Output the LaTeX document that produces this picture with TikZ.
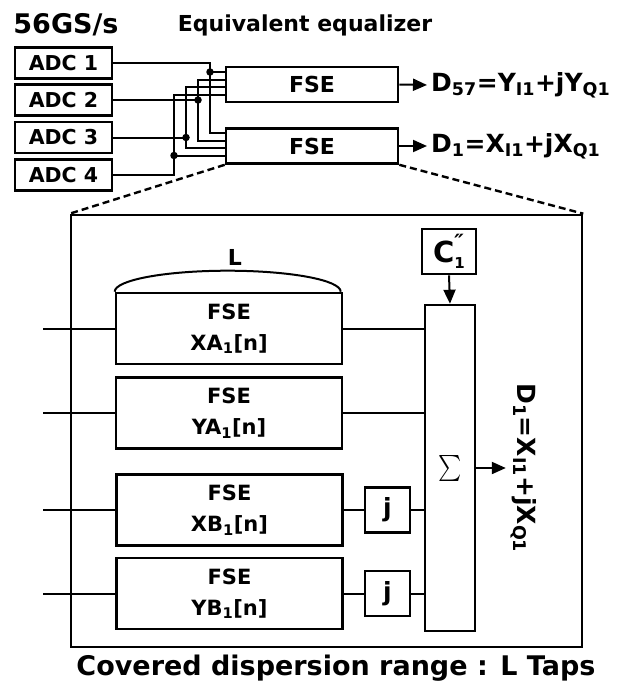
\documentclass[tikz,border=0pt]{standalone}
\usepackage{fontspec}
\usepackage{graphicx}
\setmainfont{DejaVu Sans}
\usetikzlibrary{arrows.meta, positioning, calc}

\begin{document}
\begin{tikzpicture}[x=1pt, y=-1pt,
    blk/.style={draw, rectangle, line width=2.6pt, inner sep=0pt, align=center,
      font=\fontsize{21}{31}\selectfont\bfseries},
    adcbox/.style={blk, minimum width=97pt, minimum height=31pt, font=\fontsize{20.5}{24}\selectfont\bfseries},
    fsebox/.style={blk, minimum width=172pt, minimum height=35pt, font=\fontsize{22}{26}\selectfont\bfseries},
    tapbox/.style={blk, minimum width=226pt, minimum height=71pt},
    jbox/.style={blk, minimum width=45pt, minimum height=45pt, font=\fontsize{25}{25}\selectfont\bfseries},
    ttl/.style={font=\fontsize{27}{30}\selectfont\bfseries, inner sep=0pt},
    outtxt/.style={font=\fontsize{25}{28}\selectfont\bfseries, inner sep=4pt},
    wire/.style={line width=2pt},
    warr/.style={line width=2pt, -{Triangle[length=14pt, width=12pt]}},
    zoomline/.style={line width=2.4pt, dash pattern=on 7pt off 4pt},
    jdot/.style={circle, fill, inner sep=0pt, minimum size=7.5pt}
  ]
  \useasboundingbox (0,0) rectangle (639,685);

  % titles
  \node[ttl] (rate) at (66,25) {56GS/s};
  \node[ttl, font=\fontsize{22}{26}\selectfont\bfseries] (eqz) at (305,25) {Equivalent equalizer};

  % ADCs and the two equalizers
  \node[adcbox] (adc1) at (63.5,63) {ADC 1};
  \node[adcbox] (adc2) at (63.5,100) {ADC 2};
  \node[adcbox] (adc3) at (63.5,137.5) {ADC 3};
  \node[adcbox] (adc4) at (63.5,175) {ADC 4};
  \node[fsebox] (fseT) at (312,84.5) {FSE};
  \node[fsebox] (fseB) at (312,146) {FSE};

  \coordinate (tin1) at (226,72);
  \coordinate (tin2) at (226,79.5);
  \coordinate (tin3) at (226,87);
  \coordinate (tin4) at (226,94.5);
  \coordinate (bin1) at (226,133);
  \coordinate (bin2) at (226,140.5);
  \coordinate (bin3) at (226,148);
  \coordinate (bin4) at (226,155.5);
  \coordinate (bus1) at (210,0);
  \coordinate (bus2) at (198,0);
  \coordinate (bus3) at (186,0);
  \coordinate (bus4) at (174,0);

  \draw[wire] (adc1.east) -| (bus1 |- bin1) -- (bin1);
  \draw[wire] (bus1 |- tin1) -- (tin1);
  \draw[wire] (adc2.east) -- (bus2 |- adc2.east);
  \draw[wire] (tin2) -| (bus2 |- bin2) -- (bin2);
  \draw[wire] (adc3.east) -- (bus3 |- adc3.east);
  \draw[wire] (tin3) -| (bus3 |- bin3) -- (bin3);
  \draw[wire] (adc4.east) -| (bus4 |- tin4) -- (tin4);
  \draw[wire] (bus4 |- bin4) -- (bin4);
  \node[jdot] (dj1) at (bus1 |- tin1) {};
  \node[jdot] (dj2) at (bus2 |- adc2.east) {};
  \node[jdot] (dj3) at (bus3 |- adc3.east) {};
  \node[jdot] (dj4) at (bus4 |- bin4) {};

  \node[outtxt, anchor=west] (outT) at (427,85) {D\textsubscript{57}=Y\textsubscript{I1}+jY\textsubscript{Q1}};
  \node[outtxt, anchor=west] (outB) at (427,146) {D\textsubscript{1}=X\textsubscript{I1}+jX\textsubscript{Q1}};
  \draw[warr] (fseT.east) -- (outT.west);
  \draw[warr] (fseB.east) -- (outB.west);

  % zoomed view of one equalizer
  \node[draw, line width=2.6pt, minimum width=511pt, minimum height=432pt, inner sep=0pt] (big) at (326.5,431) {};
  \draw[zoomline] (fseB.south west) -- (big.north west);
  \draw[zoomline] (fseB.south east) -- (big.north east);

  \node[tapbox] (xa) at (229,328.5) {FSE\\XA\textsubscript{1}[n]};
  \node[tapbox] (ya) at (229,413) {FSE\\YA\textsubscript{1}[n]};
  \node[tapbox] (xb) at (229.5,510) {FSE\\XB\textsubscript{1}[n]};
  \node[tapbox] (yb) at (229.5,593.5) {FSE\\YB\textsubscript{1}[n]};
  \draw[wire] (xa.north west) arc[start angle=180, end angle=0, x radius=113pt, y radius=21pt];
  \node[font=\fontsize{22}{26}\selectfont\bfseries, inner sep=0pt] (len) at (235,257) {L};

  \coordinate (inL) at (43,0);
  \foreach \b in {xa,ya,xb,yb}
    \draw[wire] (\b.west) -- (\b.west -| inL);

  \node[blk, minimum width=50pt, minimum height=326pt] (sig) at (450,468) {};
  \node[inner sep=0pt] (sigsym) at (sig.center) {\scalebox{2.2}[2.6]{$\sum$}};
  \node[blk, minimum width=54pt, minimum height=45pt, font=\fontsize{29}{29}\selectfont\bfseries] (cpp) at (449,251.5)
    {C\rlap{\raisebox{0.45em}{\fontsize{21}{21}\selectfont\itshape ″}}\raisebox{-0.22em}{\fontsize{15}{15}\selectfont 1}};
  \node[jbox] (jx) at (387.5,510) {j};
  \node[jbox] (jy) at (387.5,593.5) {j};

  \draw[wire] (xa.east) -- (xa.east -| sig.west);
  \draw[wire] (ya.east) -- (ya.east -| sig.west);
  \draw[wire] (xb.east) -- (jx.west);
  \draw[wire] (jx.east) -- (jx.east -| sig.west);
  \draw[wire] (yb.east) -- (jy.west);
  \draw[wire] (jy.east) -- (jy.east -| sig.west);
  \draw[warr] (cpp.south) -- (sig.north);

  \node[outtxt, rotate=-90, inner sep=5pt] (dout) at (524,468) {D\textsubscript{1}=X\textsubscript{I1}+jX\textsubscript{Q1}};
  \draw[warr] (sig.east) -- (dout.south);

  \node[ttl, font=\fontsize{27}{30}\selectfont\bfseries] (cover) at (336,668) {Covered dispersion range : L Taps};
\end{tikzpicture}
\end{document}
